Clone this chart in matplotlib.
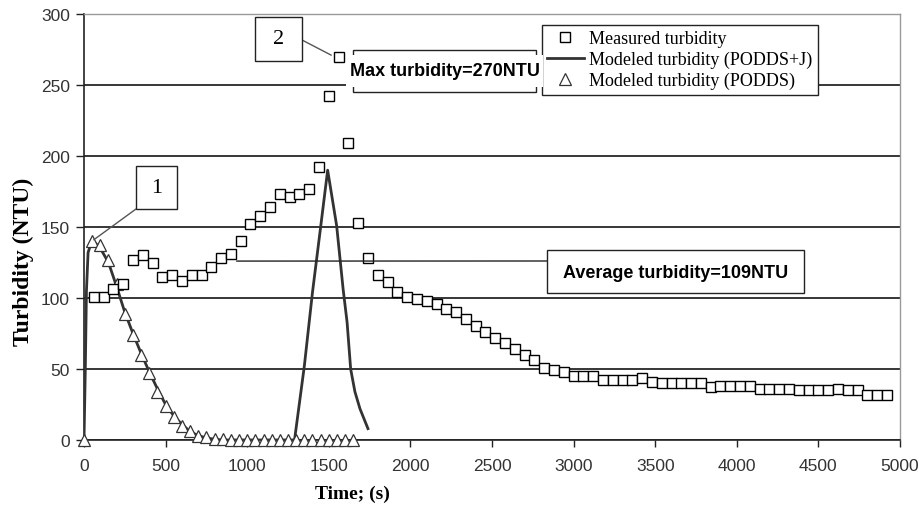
import numpy as np
import matplotlib
matplotlib.use("Agg")
import matplotlib.pyplot as plt
from matplotlib.patches import Rectangle
from matplotlib.lines import Line2D
from matplotlib.font_manager import FontProperties

# --- dati ---
# misure ogni 60 s
time_meas = np.arange(60, 4921, 60)
turb_meas = [101, 101, 106, 110, 127, 130, 125, 115, 116, 112,
             116, 116, 122, 128, 131, 140, 152, 158, 164, 173,
             171, 173, 177, 192, 242, 270, 209, 153, 128, 116,
             111, 104, 101, 99, 98, 96, 92, 90, 85, 80,
             76, 72, 68, 64, 60, 56, 51, 49, 48, 45,
             45, 45, 42, 42, 42, 42, 44, 41, 40, 40,
             40, 40, 40, 37, 38, 38, 38, 38, 36, 36,
             36, 36, 35, 35, 35, 35, 36, 35, 35, 32,
             32, 32]

# modello PODDS (triangoli) ogni 50 s
time_podds = np.arange(0, 1651, 50)
turb_podds = [0, 140, 137, 127, 110, 89, 74, 60, 47, 34,
              24, 16, 10, 6, 3, 2, 1, 0.5, 0, 0,
              0, 0, 0, 0, 0, 0, 0, 0, 0, 0,
              0, 0, 0, 0]

# modello PODDS+J (linea)
time_poddsj = [0, 8, 15, 25, 50, 100, 150, 200, 250, 300, 350, 400, 450,
               500, 550, 600, 650, 700, 750, 800, 850, 900, 1290, 1350,
               1400, 1450, 1493, 1548, 1588, 1612, 1634, 1660, 1691, 1740]
turb_poddsj = [0, 50, 105, 132, 141, 135, 125, 108, 90, 75, 61, 48, 36,
               25, 17, 11, 6, 3, 1.5, 0.5, 0, 0, 0, 52,
               104, 150, 190, 151, 106, 83, 50, 34, 22, 8]

x_ticks = [0, 500, 1000, 1500, 2000, 2500, 3000, 3500, 4000, 4500, 5000]
y_ticks = [0, 50, 100, 150, 200, 250, 300]

labels = ["Measured turbidity", "Modeled turbidity (PODDS+J)",
          "Modeled turbidity (PODDS)"]
max_text = "Max turbidity=270NTU"
avg_text = "Average turbidity=109NTU"

W, H = 920, 510


def fxy(px, py):
    # pixel (dall'alto a sinistra) -> frazione di figura
    return (px / W, 1 - py / H)


plt.rcParams['font.family'] = ['Liberation Sans', 'DejaVu Sans']

fig = plt.figure(figsize=(W / 100, H / 100), dpi=100)
ax = fig.add_axes([84 / W, 69 / H, 816 / W, 426 / H])

SQ = dict(ls='none', marker='s', ms=7, mfc='white', mec='black', mew=1.0)
TR = dict(ls='none', marker='^', ms=9, mfc='white', mec='#333333', mew=0.9)

ax.plot(time_poddsj, turb_poddsj, color='#333333', lw=2, zorder=3)
ax.plot(time_podds, turb_podds, zorder=4, clip_on=False, **TR)
ax.plot(time_meas, turb_meas, zorder=5, clip_on=False, **SQ)

ax.set_xlim(0, 5000)
ax.set_ylim(0, 300)
ax.set_xticks(x_ticks)
ax.set_yticks(y_ticks)
ax.yaxis.grid(True, color='black', lw=1.1)
ax.set_axisbelow(True)

for side in ['left', 'bottom']:
    ax.spines[side].set_color('#222222')
    ax.spines[side].set_linewidth(1.2)
for side in ['top', 'right']:
    ax.spines[side].set_color('#999999')
    ax.spines[side].set_linewidth(1.0)

ax.tick_params(axis='y', direction='out', length=6, width=1, pad=4,
               labelsize=12.5, labelcolor='#333333', color='#222222')
ax.tick_params(axis='x', direction='out', length=5, width=1, pad=8,
               labelsize=12.5, labelcolor='#333333', color='#222222')

serif_b = dict(family='Liberation Serif', weight='bold')
ax.set_ylabel('Turbidity (NTU)', fontsize=17, **serif_b)
ax.yaxis.set_label_coords(-0.061, 0.42)
ax.set_xlabel('Time; (s)', fontsize=14, **serif_b)
ax.xaxis.set_label_coords((352 - 84) / 816, -0.105)

# --- riquadri "1" e "2" ---
for (x0, y0, x1, y1), num, target, start in [
        ((136, 167, 177, 210), '1', (60, 141), (136, 210)),
        ((255, 18, 302, 62), '2', (1515, 271), (302, 41))]:
    ax.annotate('', xy=target, xycoords='data', xytext=fxy(*start),
                textcoords='figure fraction',
                arrowprops=dict(arrowstyle='-', color='#555555', lw=1,
                                shrinkA=0, shrinkB=0), zorder=6)
    fig.patches.append(Rectangle(fxy(x0, y1), (x1 - x0) / W, (y1 - y0) / H,
                                 transform=fig.transFigure, fc='white',
                                 ec='#222222', lw=1, zorder=7))
    cx, cy = fxy((x0 + x1) / 2, (y0 + y1) / 2)
    fig.text(cx, cy, num, ha='center', va='center', fontsize=16,
             family='Liberation Serif', zorder=8)

# --- Max turbidity ---
fig.patches.append(Rectangle(fxy(353, 93), 183 / W, 42.5 / H,
                             transform=fig.transFigure, fc='white',
                             ec='#222222', lw=1, zorder=7))
fig.patches.append(Rectangle(fxy(346, 88), 197 / W, 32 / H,
                             transform=fig.transFigure, fc='white',
                             ec='none', zorder=7.5))
mx, my = fxy(445, 72)
fig.text(mx, my, max_text, ha='center', va='center', fontsize=13,
         weight='bold', zorder=8)

# --- Average turbidity ---
ax.annotate('', xy=(935, 126), xycoords='data', xytext=fxy(547, 262),
            textcoords='figure fraction',
            arrowprops=dict(arrowstyle='-', color='#222222', lw=1,
                            shrinkA=0, shrinkB=0), zorder=6)
fig.patches.append(Rectangle(fxy(547, 294), 257 / W, 43.5 / H,
                             transform=fig.transFigure, fc='white',
                             ec='#222222', lw=1, zorder=7))
axx, axy = fxy(676, 273)
fig.text(axx, axy, avg_text, ha='center', va='center', fontsize=13,
         weight='bold', zorder=8)

# --- legenda ---
handles = [Line2D([], [], **SQ),
           Line2D([], [], color='#333333', lw=2),
           Line2D([], [], **TR)]
leg = ax.legend(handles, labels, loc='upper left',
                bbox_to_anchor=fxy(542, 26), bbox_transform=fig.transFigure,
                frameon=True, fancybox=False, framealpha=1,
                edgecolor='#222222', borderaxespad=0, borderpad=0.3,
                labelspacing=0.2, handlelength=2.0, handletextpad=0.3,
                prop=FontProperties(family='Liberation Serif', size=13))
leg.get_frame().set_linewidth(1)
leg.set_zorder(9)

fig.savefig('out.png', dpi=100)
